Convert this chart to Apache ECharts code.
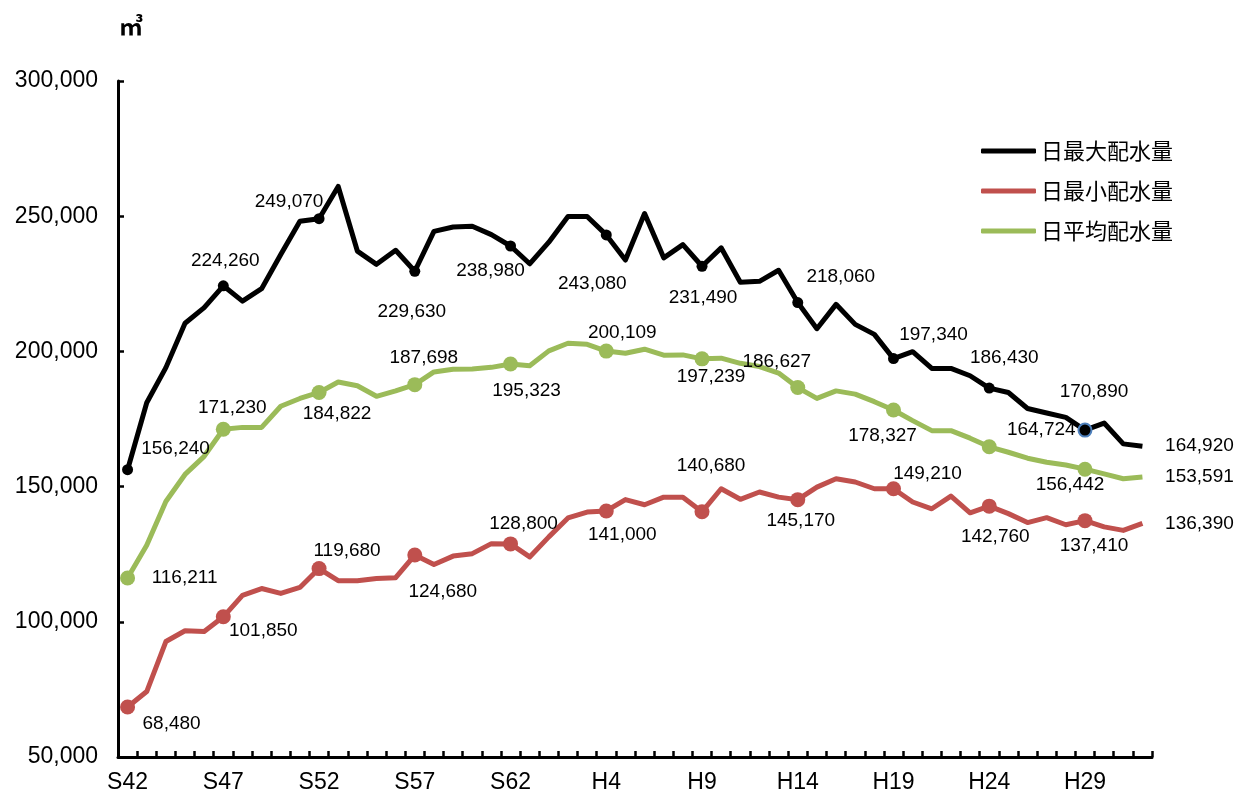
<!DOCTYPE html>
<html><head><meta charset="utf-8">
<script src="https://cdn.jsdelivr.net/npm/echarts@6/dist/echarts.min.js"></script>
<style>html,body{margin:0;padding:0;background:#fff}#c{width:1236px;height:800px}</style>
</head><body><div id="c"></div>
<script>
// ---------------- DATA ----------------
const categories = ['S42','S43','S44','S45','S46','S47','S48','S49','S50','S51','S52','S53','S54','S55','S56','S57','S58','S59','S60','S61','S62','S63',
  'H1','H2','H3','H4','H5','H6','H7','H8','H9','H10','H11','H12','H13','H14','H15','H16','H17','H18','H19','H20','H21','H22','H23','H24','H25','H26','H27','H28','H29','H30','R1','R2'];
const seriesNames = ['日最大配水量', '日最小配水量', '日平均配水量'];
const maxData = [156240,181000,194000,210400,216200,224260,218600,223200,235800,248100,
  249070,261000,237100,232200,237400,229630,244400,246000,246300,243200,
  238980,232400,240400,249900,249900,243080,233800,251000,234600,239500,
  231490,238300,225600,225900,230000,218060,208400,217400,210000,206300,
  197340,199900,193700,193700,191000,186430,184800,178900,177200,175600,
  170890,173500,165800,164920];
const minData = [68480,74200,92700,96700,96400,101850,109800,112300,110500,112700,
  119680,115200,115200,116000,116300,124680,121200,124300,125200,128900,
  128800,124000,131400,138400,140600,141000,145200,143300,146100,146100,
  140680,149200,145300,148000,146100,145170,149800,152900,151700,149200,
  149210,144300,141800,146500,140300,142760,140000,136700,138500,135900,
  137410,135100,133800,136390];
const avgData = [116211,128300,144500,154500,161200,171230,171900,171900,179700,182600,
  184822,188700,187300,183400,185400,187698,192400,193400,193500,194100,
  195323,194700,200200,203000,202600,200109,199300,200800,198600,198700,
  197239,197500,195600,194400,192000,186627,182600,185400,184200,181400,
  178327,174400,170700,170700,167900,164724,162700,160500,159000,158000,
  156442,154700,152900,153591];
const yMin = 50000, yMax = 300000, yStep = 50000;
const unitText = '㎥';

// ---------------- STYLE ----------------
const markerIdx = [0,5,10,15,20,25,30,35,40,45,50];
const offMax = {0:[48,-21],5:[2,-25],10:[-30,-17],15:[-3,40],20:[-20,25],25:[-14,49],30:[1,32],35:[43,-26],40:[40,-24],45:[15,-30],50:[9,-38],53:[57,0]};
const offMin = {0:[44,17],5:[40,14],10:[28,-18],15:[28,37],20:[13,-20],25:[16,24],30:[9,-46],35:[3,21],40:[34,-15],45:[6,31],50:[9,25],53:[57,0]};
const offAvg = {0:[57,0],5:[9,-21],10:[18,21],15:[9,-27],20:[16,27],25:[16,-18],30:[9,18],35:[-21,-26],40:[-11,26],45:[52,-17],50:[-15,16],53:[57,0]};
const colors = ['#000000', '#C0504D', '#9BBB59'];
const fmt = v => Number(v).toLocaleString('en-US');
const labelFont = {fontFamily: 'Liberation Sans', fontSize: 19, color: '#000'};

function build(values, offs, mSize, extra) {
  return values.map((v, i) => {
    const it = {value: v, symbolSize: markerIdx.includes(i) ? mSize : 0};
    if (offs[i]) {
      it.label = Object.assign({show: true, position: 'inside', offset: offs[i], formatter: p => fmt(p.value)}, labelFont);
    }
    if (extra && extra[i]) Object.assign(it, extra[i]);
    return it;
  });
}

const chart = echarts.init(document.getElementById('c'), null, {renderer: 'canvas'});
const common = {type: 'line', symbol: 'circle', showAllSymbol: true, animation: false, emphasis: {disabled: true}};
chart.setOption({
  animation: false,
  textStyle: {fontFamily: 'Liberation Sans'},
  grid: {left: 118, right: 84, top: 81, bottom: 43, containLabel: false},
  legend: {
    data: seriesNames, orient: 'vertical', left: 981, top: 140, padding: 0,
    icon: 'roundRect', itemWidth: 55, itemHeight: 5, itemGap: 18,
    textStyle: {fontFamily: 'Noto Sans CJK JP', fontSize: 22, color: '#000'}
  },
  graphic: [{type: 'text', left: 119, top: 14, style: {text: unitText, font: 'bold 24px "Noto Sans CJK JP"', fill: '#000'}}],
  xAxis: {
    type: 'category', data: categories, boundaryGap: true,
    axisLine: {lineStyle: {color: '#000', width: 3}},
    axisTick: {show: true, inside: true, length: 6, interval: 0, lineStyle: {color: '#000', width: 2.5}},
    axisLabel: {interval: 4, color: '#000', fontSize: 23, fontFamily: 'Liberation Sans', margin: 14},
    splitLine: {show: false}
  },
  yAxis: {
    type: 'value', min: yMin, max: yMax, interval: yStep,
    axisLine: {show: true, lineStyle: {color: '#000', width: 3}},
    axisTick: {show: true, inside: true, length: 6, lineStyle: {color: '#000', width: 2.5}},
    axisLabel: {color: '#000', fontSize: 23, fontFamily: 'Liberation Sans', margin: 20, formatter: v => fmt(v)},
    splitLine: {show: false}
  },
  series: [
    Object.assign({}, common, {name: seriesNames[0], data: build(maxData, offMax, 11, {50: {symbolSize: 13, itemStyle: {borderColor: '#4F81BD', borderWidth: 2}}}),
      itemStyle: {color: colors[0]}, lineStyle: {width: 5, color: colors[0], join: 'round'}, z: 4}),
    Object.assign({}, common, {name: seriesNames[1], data: build(minData, offMin, 15),
      itemStyle: {color: colors[1]}, lineStyle: {width: 5, color: colors[1], join: 'round'}, z: 3}),
    Object.assign({}, common, {name: seriesNames[2], data: build(avgData, offAvg, 15),
      itemStyle: {color: colors[2]}, lineStyle: {width: 5, color: colors[2], join: 'round'}, z: 2})
  ]
});
</script></body></html>
